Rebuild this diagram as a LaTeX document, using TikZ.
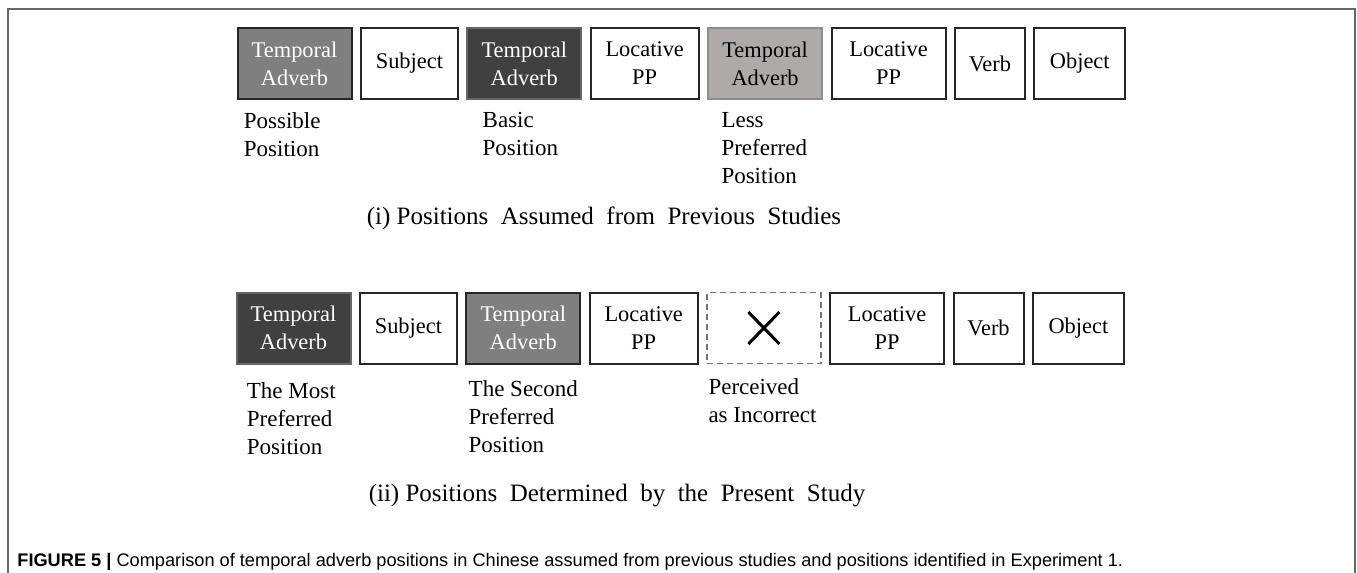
\documentclass[tikz,border=0pt]{standalone}
\usepackage{fontspec}
\setmainfont{Liberation Serif}
\newfontfamily\capfont{Liberation Sans}
\usetikzlibrary{positioning}
\definecolor{advlight}{RGB}{174,170,170}
\definecolor{advmid}{RGB}{127,127,127}
\definecolor{advdark}{RGB}{64,64,64}
\tikzset{
node distance=3.7pt,
box/.style={draw=black!85,line width=1pt,minimum height=35.5pt,inner sep=1pt,align=center,font=\fontsize{11.2}{14}\selectfont},
adv dark/.style={box,fill=advdark,draw=black!60,text=white},
adv mid/.style={box,fill=advmid,draw=black!85,text=white},
adv light/.style={box,fill=advlight,draw=black!45},
slot gone/.style={box,draw=black!55,line width=0.8pt,dash pattern=on 3pt off 2pt},
spot label/.style={anchor=north west,align=left,inner sep=0pt,font=\fontsize{11.5}{14}\selectfont},
heading/.style={anchor=base,inner sep=0pt,font=\fontsize{12.5}{15}\selectfont},
cross/.style={line width=1.5pt},
frame/.style={draw=black!60,line width=1pt}}

\begin{document}
\begin{tikzpicture}[x=0.5pt,y=-0.5pt]

\useasboundingbox (0,0) rectangle (1357,573);
\draw[frame] (8,573) -- (8,9) -- (1355,9) -- (1355,573);

      % (i) previous studies
      \node[adv mid,minimum width=57pt] (a1) at (294.5,63.5) {Temporal\\Adverb};
      \node[box,minimum width=48.5pt,right=of a1] (a2) {Subject};
      \node[adv dark,minimum width=57pt,right=of a2] (a3) {Temporal\\Adverb};
      \node[box,minimum width=54pt,right=of a3] (a4) {Locative\\PP};
      \node[adv light,minimum width=57pt,right=of a4] (a5) {Temporal\\Adverb};
      \node[box,minimum width=57pt,right=of a5] (a6) {Locative\\PP};
      \node[box,minimum width=35pt,right=of a6] (a7) {Verb};
      \node[box,minimum width=45.5pt,right=of a7] (a8) {Object};

      \node[spot label] (la1) at ([shift={(7,12)}]a1.south west) {Possible\\Position};
      \node[spot label] (la3) at ([shift={(16,12)}]a3.south west) {Basic\\Position};
      \node[spot label] (la5) at ([shift={(14,12)}]a5.south west) {Less\\Preferred\\Position};

      \node[heading] (capa) at (604,224) {(i) Positions\ \ Assumed\ \ from\ \ Previous\ \ Studies};

      % (ii) present study
      \node[adv dark,minimum width=57pt] (b1) at (293.5,328) {Temporal\\Adverb};
      \node[box,minimum width=48.5pt,right=of b1] (b2) {Subject};
      \node[adv mid,minimum width=57pt,right=of b2] (b3) {Temporal\\Adverb};
      \node[box,minimum width=54pt,right=of b3] (b4) {Locative\\PP};
      \node[slot gone,minimum width=57pt,right=of b4] (b5) {};
      \node[box,minimum width=57pt,right=of b5] (b6) {Locative\\PP};
      \node[box,minimum width=35pt,right=of b6] (b7) {Verb};
      \node[box,minimum width=45.5pt,right=of b7] (b8) {Object};

      \draw[cross] ([shift={(-15.5,-16)}]b5.center) -- ([shift={(15.5,16)}]b5.center);
      \draw[cross] ([shift={(-15.5,16)}]b5.center) -- ([shift={(15.5,-16)}]b5.center);

      \node[spot label] (lb1) at ([shift={(11,18)}]b1.south west) {The Most\\Preferred\\Position};
      \node[spot label] (lb3) at ([shift={(3,16)}]b3.south west) {The Second\\Preferred\\Position};
      \node[spot label] (lb5) at ([shift={(2,14)}]b5.south west) {Perceived\\as Incorrect};

      \node[heading] (capb) at (617,501) {(ii) Positions\ \ Determined\ \ by\ \ the\ \ Present\ \ Study};

      \node[anchor=base west,inner sep=0pt,font=\capfont\fontsize{9.1}{11}\selectfont] (fig) at (17,566)
        {\textbf{FIGURE 5 |} Comparison of temporal adverb positions in Chinese assumed from previous studies and positions identified in Experiment 1.};
\end{tikzpicture}
\end{document}
